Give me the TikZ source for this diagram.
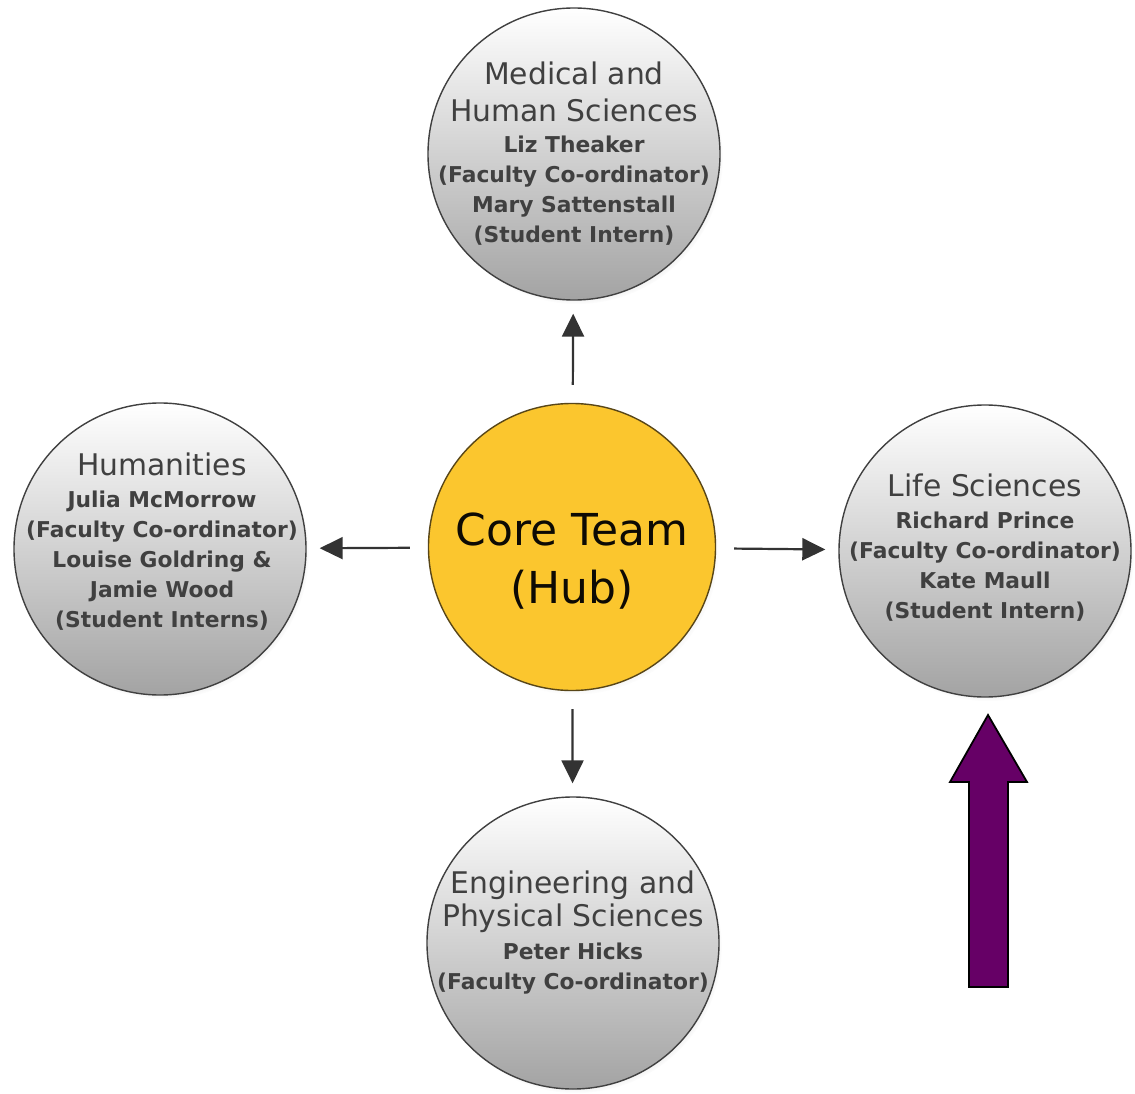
\documentclass[tikz,border=0pt]{standalone}
\usepackage{fontspec}
\setmainfont{DejaVu Sans}
\usetikzlibrary{arrows.meta,shadows}
\definecolor{hubyellow}{RGB}{251,198,46}
\definecolor{hubedge}{RGB}{88,70,24}
\definecolor{inkgray}{RGB}{64,64,64}
\definecolor{plum}{RGB}{102,0,102}
\newcommand{\hd}[1]{{\fontsize{29.8pt}{37pt}\selectfont #1}}
\newcommand{\nm}[1]{{\bfseries\fontsize{21.8pt}{30pt}\selectfont #1}}
\tikzset{
	unit/.style={circle, draw=black!75, line width=1.4pt, minimum size=292pt, inner sep=0pt,
		top color=white, bottom color=black!36,
		circular drop shadow={shadow xshift=3pt, shadow yshift=-4pt, shadow scale=1.0, opacity=0.35}},
	unittext/.style={align=center, inner sep=0pt, text=inkgray, font=\fontsize{21.8pt}{30pt}\selectfont},
	hubnode/.style={circle, draw=hubedge, line width=1.4pt, minimum size=287pt, inner sep=0pt,
		fill=hubyellow,
		circular drop shadow={shadow xshift=3pt, shadow yshift=-4pt, shadow scale=1.0, opacity=0.25}},
	hubtext/.style={align=center, inner sep=0pt, text=black!85!hubedge, font=\fontsize{44pt}{58pt}\selectfont},
	link/.style={draw=black!80, line width=2.2pt, -{Triangle[length=23pt,width=22pt]},
		shorten <=18pt, shorten >=13pt}
}

\begin{document}
\begin{tikzpicture}[x=1pt,y=-1pt]
			%%%%% START %%%%%
			\path[fill=white, use as bounding box] (0,0) rectangle (1135,1094);
			
			\node[hubnode] (hub) at (572,547) {};
			\node[hubtext] (hubtxt) at (572,561) {Core Team\\(Hub)};
			
			\node[unit] (med) at (574,154) {};
			\node[unittext] (medtxt) at (574,154) {\hd{Medical and}\\[7pt]\hd{Human Sciences}\\[1pt]
				\nm{Liz Theaker}\\\nm{(Faculty Co-ordinator)}\\\nm{Mary Sattenstall}\\\nm{(Student Intern)}};
			
			\node[unit] (hum) at (160,549) {};
			\node[unittext] (humtxt) at (162,542) {\hd{Humanities}\\[2pt]\nm{Julia McMorrow}\\\nm{(Faculty Co-ordinator)}\\
				\nm{Louise Goldring \&}\\\nm{Jamie Wood}\\\nm{(Student Interns)}};
			
			\node[unit] (life) at (985,551) {};
			\node[unittext] (lifetxt) at (985,548) {\hd{Life Sciences}\\[2pt]\nm{Richard Prince}\\\nm{(Faculty Co-ordinator)}\\
				\nm{Kate Maull}\\\nm{(Student Intern)}};
			
			\node[unit] (eng) at (573,943) {};
			\node[unittext] (engtxt) at (573,933) {\hd{Engineering and}\\[3pt]\hd{Physical Sciences}\\[3pt]
				\nm{Peter Hicks}\\\nm{(Faculty Co-ordinator)}};
			
			\draw[link] (hub) -- (med);
			\draw[link] (hub) -- (hum);
			\draw[link] (hub) -- (life);
			\draw[link] (hub) -- (eng);
			
			% pointer up to life sciences
			\draw[fill=plum, line width=1.8pt, line join=miter] (969,987) -- (969,782) -- (950,782) -- (988,715)
				-- (1027,782) -- (1008,782) -- (1008,987) -- cycle;
			%%%%% END %%%%%
\end{tikzpicture}
\end{document}
